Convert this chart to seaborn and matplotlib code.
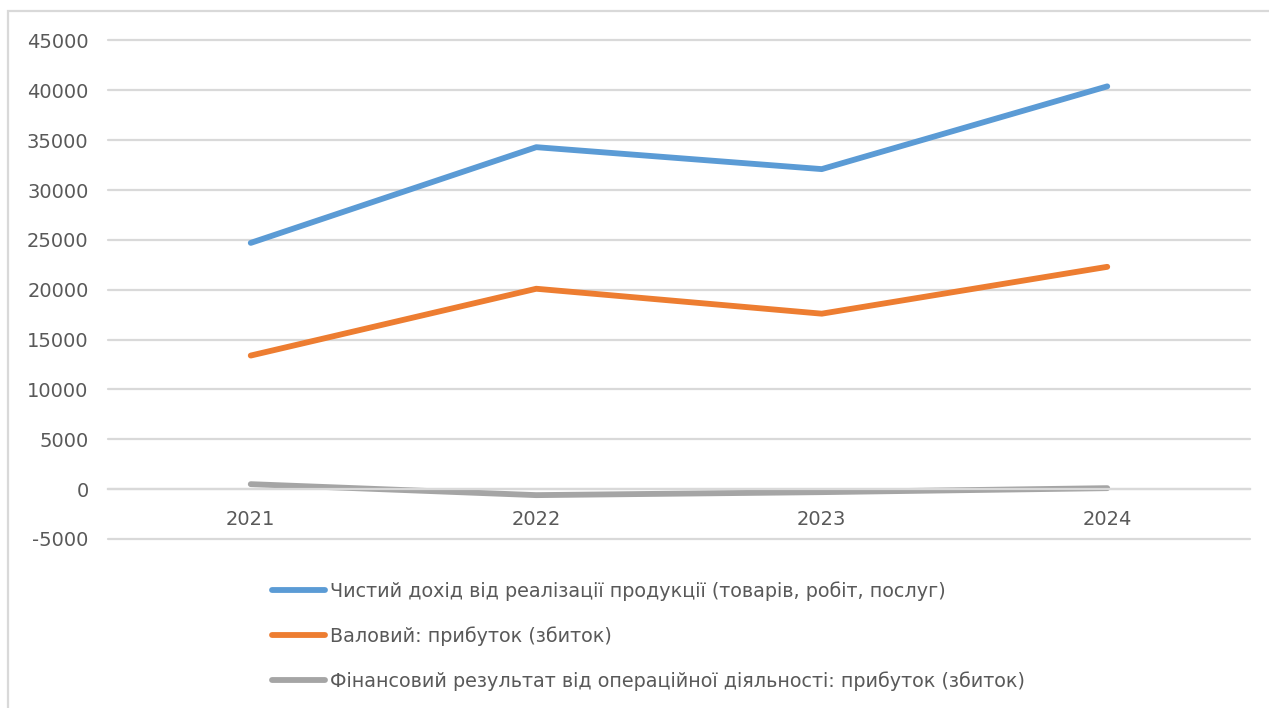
import matplotlib
matplotlib.use("Agg")
import matplotlib.pyplot as plt
from matplotlib.patches import Rectangle
import pandas as pd
import seaborn as sns

# Financial indicators by year, UAH thousand
years = ["2021", "2022", "2023", "2024"]
net_income = [24700, 34300, 32100, 40400]
gross_profit = [13400, 20100, 17600, 22300]
operating_result = [500, -600, -300, 100]

series_names = [
    "Чистий дохід від реалізації продукції (товарів, робіт, послуг)",
    "Валовий: прибуток (збиток)",
    "Фінансовий результат від операційної діяльності: прибуток (збиток)",
]
series_values = [net_income, gross_profit, operating_result]
colors = ["#5B9BD5", "#ED7D31", "#A5A5A5"]

y_ticks = list(range(-5000, 45001, 5000))

df = pd.DataFrame(
    [(y, v, name) for name, vals in zip(series_names, series_values) for y, v in zip(years, vals)],
    columns=["year", "value", "series"],
)

sns.set_style("white")
plt.rcParams["font.family"] = ["DejaVu Sans"]
plt.rcParams["axes.unicode_minus"] = False

text_color = "#595959"
grid_color = "#D9D9D9"

fig = plt.figure(figsize=(12.69, 7.08), dpi=100)
ax = fig.add_axes([108 / 1269, 1 - 539 / 708, (1250 - 108) / 1269, (539 - 40.5) / 708])

sns.lineplot(
    data=df, x="year", y="value", hue="series", hue_order=series_names,
    palette=colors, linewidth=4.2, ax=ax, sort=False,
    solid_capstyle="round", solid_joinstyle="round",
)

ax.set_xlim(-0.5, len(years) - 0.5)
ax.set_ylim(y_ticks[0], y_ticks[-1])
ax.set_yticks(y_ticks)
ax.set_xlabel("")
ax.set_ylabel("")
ax.grid(axis="y", color=grid_color, linewidth=1.6)
ax.grid(axis="x", visible=False)
ax.set_axisbelow(True)
for gl in ax.get_ygridlines():
    gl.set_clip_on(False)

for side in ["left", "right", "top"]:
    ax.spines[side].set_visible(False)
ax.spines["bottom"].set_position(("data", 0))
ax.spines["bottom"].set_color(grid_color)
ax.spines["bottom"].set_linewidth(1.6)

ax.tick_params(axis="y", length=0, pad=14, labelsize=14, labelcolor=text_color)
ax.tick_params(axis="x", length=0, pad=15, labelsize=14, labelcolor=text_color)

leg = ax.legend(
    loc="upper left", bbox_to_anchor=(272 / 1269, 1 - 581 / 708),
    bbox_transform=fig.transFigure, frameon=False, ncol=1,
    fontsize=13.8, labelcolor=text_color, handlelength=2.75,
    handletextpad=0.25, labelspacing=1.33, borderpad=0, borderaxespad=0,
)
for h in leg.get_lines():
    h.set_linewidth(4.2)

# outer chart border (right and bottom edges fall outside the canvas)
fig.add_artist(Rectangle(
    (8 / 1269, -0.1), 1.2, 1.1 - 11 / 708, transform=fig.transFigure,
    fill=False, edgecolor=grid_color, linewidth=1.6,
))

fig.savefig("out.png", dpi=100)
